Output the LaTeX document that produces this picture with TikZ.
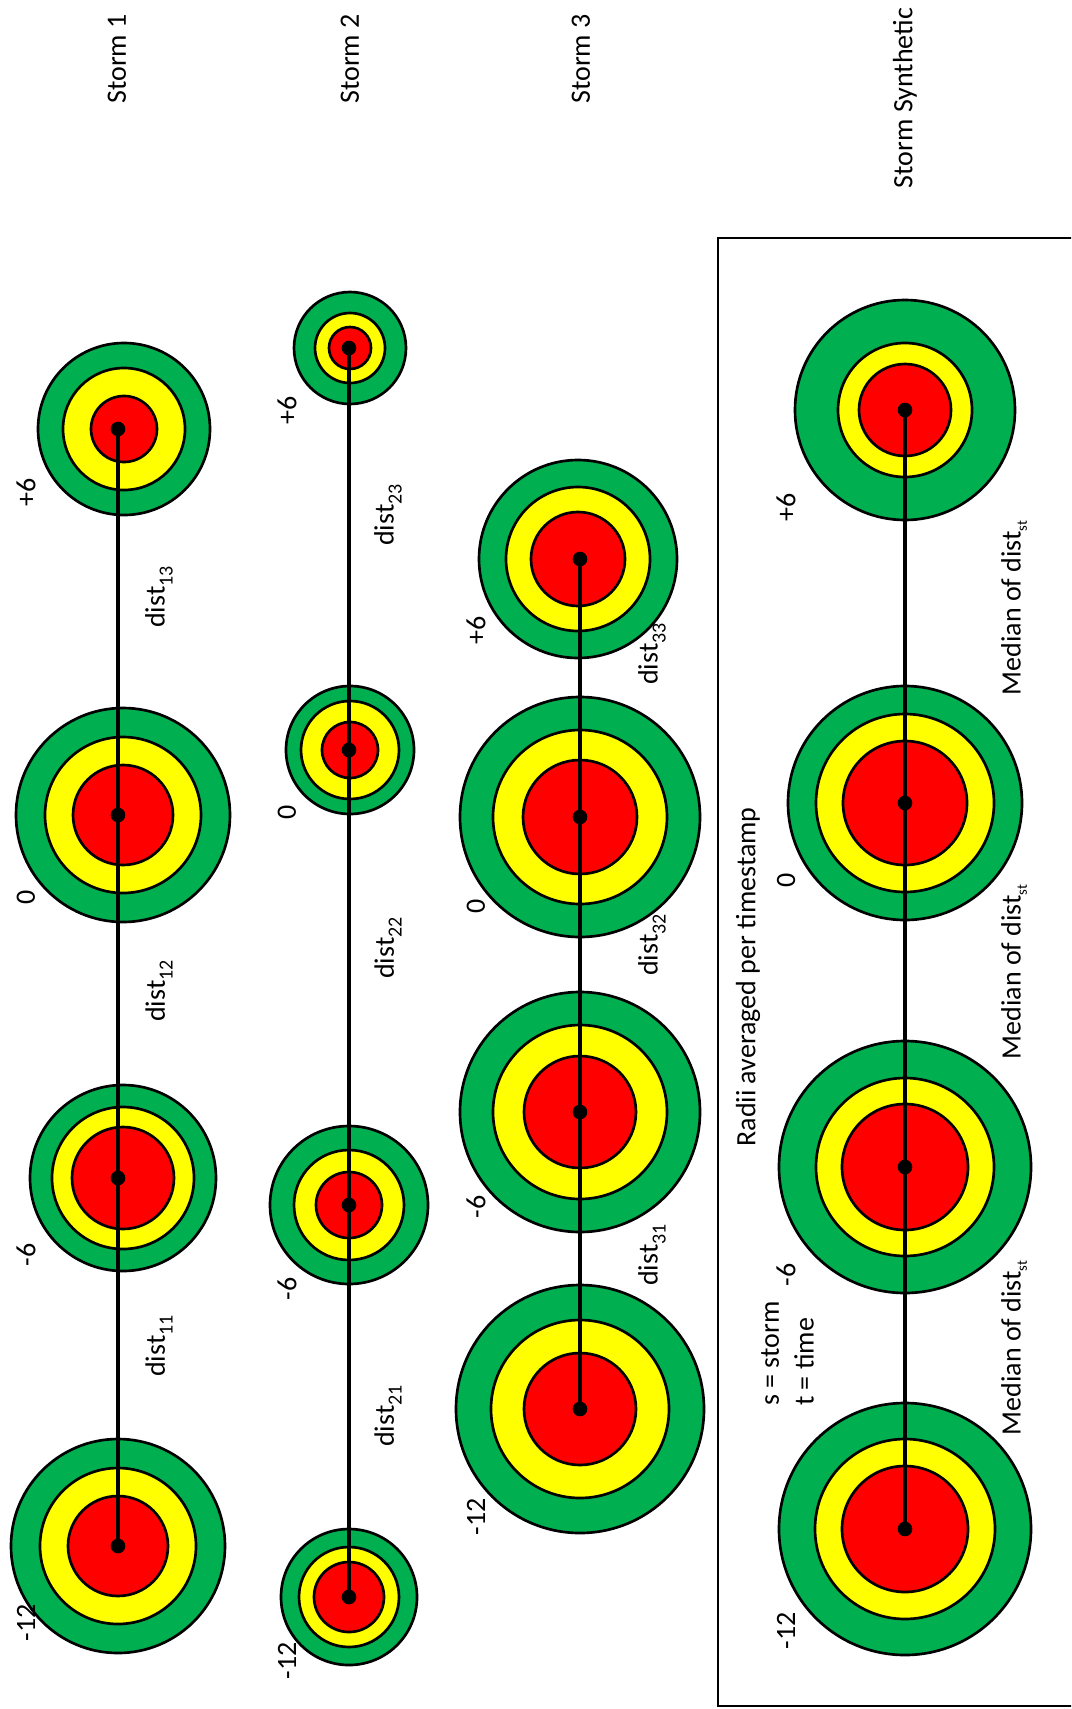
\documentclass[tikz,border=0pt]{standalone}
\usepackage{fontspec}
\setmainfont{Carlito}
\definecolor{cg}{HTML}{00B050}
\definecolor{cy}{HTML}{FFFF00}
\definecolor{cr}{HTML}{FF0000}
\newcommand\mysub[1]{\raisebox{-0.28em}{\fontsize{15}{15}\selectfont #1}}
\newcommand\mysubb[1]{\raisebox{-0.22em}{\fontsize{11}{11}\selectfont #1}}
% name, dot x, y, ring x, green r, yellow r, red r (in px)
\newcommand\mytarget[7]{%
  \node[ring, fill=cg, minimum size={#5*1.5pt}] (#1g) at (#4,#3) {};
  \node[ring, fill=cy, minimum size={#6*1.5pt}] (#1y) at (#4,#3) {};
  \node[ring, fill=cr, minimum size={#7*1.5pt}] (#1r) at (#4,#3) {};
  \coordinate (#1) at (#2,#3);
}
\begin{document}
\begin{tikzpicture}[x=0.75pt,y=-0.75pt,
  ring/.style={circle, draw=black, line width=2pt, inner sep=0pt, outer sep=0pt},
  ctr/.style={circle, fill=black, inner sep=0pt, minimum size=11pt},
  link/.style={line width=2.6pt, black},
  lab/.style={rotate=90, font=\fontsize{21}{25}\selectfont, inner sep=0pt},
  frame/.style={line width=1.6pt, black}]
\useasboundingbox (0,0) rectangle (1071,1709);
\clip (0,0) rectangle (1071,1709);

% titles
\node[lab] (t1) at (117,59) {Storm 1};
\node[lab] (t2) at (350,59) {Storm 2};
\node[lab] (t3) at (581,59) {Storm 3};
\node[lab] (t4) at (905,98) {Storm Synthetic};

% box
\node[draw, frame, inner sep=0pt, minimum width={355*0.75pt}, minimum height={1468*0.75pt}, anchor=north west] (box) at (717,237) {};

% storm 1
\mytarget{sa}{118}{429}{124}{86}{61}{33}
\mytarget{sb}{118}{815}{123}{107}{78}{50}
\mytarget{sc}{118}{1178}{123}{93}{71}{51}
\mytarget{sd}{118}{1546}{118}{107}{78}{50}
% storm 2
\mytarget{ta}{349}{348}{350}{56}{35}{21}
\mytarget{tb}{349}{750}{350}{64}{49}{28}
\mytarget{tc}{349}{1205}{349}{79}{55}{33}
\mytarget{td}{349}{1597}{349}{68}{50}{35}
% storm 3
\mytarget{ua}{580}{559}{578}{99}{72}{47}
\mytarget{ub}{580}{817}{580}{120}{87}{57}
\mytarget{uc}{580}{1112}{580}{120}{87}{56}
\mytarget{ud}{580}{1409}{580}{124}{89}{56}
% synthetic
\mytarget{va}{905}{410}{905}{110}{67}{46}
\mytarget{vb}{905}{803}{905}{117}{89}{62}
\mytarget{vc}{905}{1167}{905}{126}{89}{63}
\mytarget{vd}{905}{1529}{905}{126}{90}{63}

% links
\draw[link] (sa) -- (sb) -- (sc) -- (sd);
\draw[link] (ta) -- (tb) -- (tc) -- (td);
\draw[link] (ua) -- (ub) -- (uc) -- (ud);
\draw[link] (va) -- (vb) -- (vc) -- (vd);

% center dots
\foreach \n in {sa,sb,sc,sd,ta,tb,tc,td,ua,ub,uc,ud,va,vb,vc,vd}
  \node[ctr] (\n d) at (\n) {};

% time labels
\node[lab] (k1a) at (26,492) {+6};
\node[lab] (k1b) at (26,897) {0};
\node[lab] (k1c) at (26,1255) {-6};
\node[lab] (k1d) at (26,1623) {-12};
\node[lab] (k2a) at (287,410) {+6};
\node[lab] (k2b) at (287,812) {0};
\node[lab] (k2c) at (287,1289) {-6};
\node[lab] (k2d) at (287,1661) {-12};
\node[lab] (k3a) at (476,630) {+6};
\node[lab] (k3b) at (476,906) {0};
\node[lab] (k3c) at (476,1207) {-6};
\node[lab] (k3d) at (476,1517) {-12};
\node[lab] (k4a) at (786,507) {+6};
\node[lab] (k4b) at (786,880) {0};
\node[lab] (k4c) at (786,1275) {-6};
\node[lab] (k4d) at (786,1631) {-12};

% distance labels
\node[lab] (d13) at (159,597) {dist\mysub{13}};
\node[lab] (d12) at (159,991) {dist\mysub{12}};
\node[lab] (d11) at (159,1346) {dist\mysub{11}};
\node[lab] (d23) at (388,515) {dist\mysub{23}};
\node[lab] (d22) at (388,948) {dist\mysub{22}};
\node[lab] (d21) at (388,1416) {dist\mysub{21}};
\node[lab] (d33) at (652,654) {dist\mysub{33}};
\node[lab] (d32) at (652,945) {dist\mysub{32}};
\node[lab] (d31) at (652,1255) {dist\mysub{31}};

% synthetic labels
\node[lab] (m3) at (1014,608) {Median of dist\mysubb{st}};
\node[lab] (m2) at (1014,972) {Median of dist\mysubb{st}};
\node[lab] (m1) at (1014,1348) {Median of dist\mysubb{st}};
\node[lab] (rad) at (748,977) {Radii averaged per timestamp};
\node[lab, anchor=west] (st) at (770,1406) {s = storm};
\node[lab, anchor=west] (tt) at (804,1406) {t = time};
\end{tikzpicture}
\end{document}
